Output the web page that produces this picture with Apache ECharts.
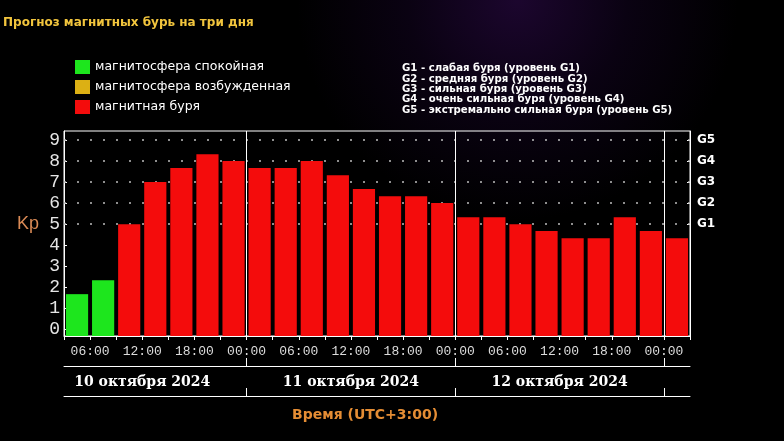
<!DOCTYPE html>
<html><head><meta charset="utf-8">
<script src="https://cdn.jsdelivr.net/npm/echarts@6/dist/echarts.min.js"></script>
<style>html,body{margin:0;padding:0;background:#000}#c{width:784px;height:441px}</style>
</head><body><div id="c"></div>
<script>
// ---- data ----
const titleText = 'Прогноз магнитных бурь на три дня';
const legendNames = ['магнитосфера спокойная', 'магнитосфера возбужденная', 'магнитная буря'];
const legendColors = ['#1de61d', '#dcb014', '#f40c0c'];
const gDescriptions = [
  'G1 - слабая буря (уровень G1)',
  'G2 - средняя буря (уровень G2)',
  'G3 - сильная буря (уровень G3)',
  'G4 - очень сильная буря (уровень G4)',
  'G5 - экстремально сильная буря (уровень G5)'
];
const firstSlotHour = 3;   // hours since 10 Oct 00:00
const slotHours = 3;
const kpValues = [
  1.67, 2.33, 5, 7, 7.67, 8.33, 8,
  7.67, 7.67, 8, 7.33, 6.67, 6.33, 6.33, 6,
  5.33, 5.33, 5, 4.67, 4.33, 4.33, 5.33, 4.67,
  4.33
];
const timeTickHours = [6, 12, 18, 24, 30, 36, 42, 48, 54, 60, 66, 72];
const timeTickLabels = ['06:00', '12:00', '18:00', '00:00', '06:00', '12:00', '18:00', '00:00', '06:00', '12:00', '18:00', '00:00'];
const dayBreakHours = [24, 48, 72];
const dayLabelHours = [12, 36, 60];
const dayLabels = ['10 октября 2024', '11 октября 2024', '12 октября 2024'];
const kpTicks = [0, 1, 2, 3, 4, 5, 6, 7, 8, 9];
const gKp = [5, 6, 7, 8, 9];
const gLabels = ['G1', 'G2', 'G3', 'G4', 'G5'];
const kpName = 'Kp';
const timeAxisTitle = 'Время (UTC+3:00)';

// ---- chart ----
const X_MIN = firstSlotHour, X_MAX = firstSlotHour + slotHours * kpValues.length;
const Y_MIN = -0.32, Y_MAX = 9.43;
const slotEdges = kpValues.map((_, i) => firstSlotHour + slotHours * i).concat(X_MAX);
function kpClass(v) { return v < 4 ? 0 : (v <= 4 ? 1 : 2); }

function barSeries(cls) {
  return {
    type: 'custom', name: legendNames[cls], xAxisIndex: 0, yAxisIndex: 0, z: 3,
    itemStyle: { color: legendColors[cls] },
    encode: { x: 0, y: 1 },
    data: kpValues.map((v, i) => [firstSlotHour + slotHours * (i + 0.5), v, kpClass(v)])
                  .filter(d => d[2] === cls),
    renderItem(params, api) {
      const c = api.coord([api.value(0), api.value(1)]);
      const w = api.size([slotHours, 0])[0] * 0.85;
      const cs = params.coordSys;
      const base = cs.y + cs.height;
      return { type: 'rect', shape: { x: c[0] - w / 2, y: c[1], width: w, height: base - c[1] },
               style: { fill: legendColors[cls] } };
    }
  };
}

const chart = echarts.init(document.getElementById('c'), null, { renderer: 'canvas' });
chart.setOption({
  animation: false,
  backgroundColor: {
    type: 'radial', x: 0.66, y: 0, r: 0.5,
    colorStops: [{ offset: 0, color: '#1c062e' }, { offset: 0.5, color: '#0a0212' }, { offset: 1, color: '#000' }]
  },
  title: [
    { text: titleText, left: 3, top: 17, padding: 0,
      textStyle: { color: '#f2c53d', fontSize: 12, fontWeight: 'bold', fontFamily: 'DejaVu Sans' } },
    { text: gDescriptions.join('\n'), left: 402, top: 63, padding: 0,
      textStyle: { color: '#ffffff', fontSize: 11.3, lineHeight: 10.4, fontWeight: 'bold', fontFamily: 'DejaVu Sans Condensed' } },
    { text: timeAxisTitle, left: 292, top: 408, padding: 0,
      textStyle: { color: '#e58d34', fontSize: 14, fontWeight: 'bold', fontFamily: 'DejaVu Sans' } }
  ],
  legend: {
    orient: 'vertical', left: 75, top: 60, padding: 0,
    itemWidth: 15, itemHeight: 14, itemGap: 6, icon: 'rect', selectedMode: false,
    textStyle: { color: '#ffffff', fontSize: 12.5, fontFamily: 'DejaVu Sans' },
    data: legendNames.map((n, i) => ({ name: n, icon: 'rect', itemStyle: { color: legendColors[i] } }))
  },
  grid: { left: 64, top: 131, width: 626, height: 205, show: true, borderColor: '#ffffff', borderWidth: 1,
          backgroundColor: 'transparent', containLabel: false },
  xAxis: [
    { type: 'value', min: X_MIN, max: X_MAX, position: 'bottom',
      axisLine: { show: true, onZero: false, lineStyle: { color: '#ffffff', width: 1 } },
      axisTick: { show: true, customValues: slotEdges, length: 4, lineStyle: { color: '#ffffff' } },
      axisLabel: { customValues: timeTickHours, margin: 9, color: '#dcdcdc', fontSize: 13, fontFamily: 'Liberation Mono',
                   formatter: v => timeTickLabels[timeTickHours.indexOf(v)] },
      splitLine: { show: false } },
    { type: 'value', min: X_MIN, max: X_MAX, position: 'bottom', offset: 30,
      axisLine: { show: true, onZero: false, lineStyle: { color: '#ffffff', width: 1 } },
      axisTick: { show: true, inside: true, customValues: dayBreakHours, length: 8, lineStyle: { color: '#ffffff' } },
      axisLabel: { customValues: dayLabelHours, margin: 9, color: '#ffffff', fontSize: 14, fontWeight: 'bold',
                   fontFamily: 'DejaVu Serif', formatter: v => dayLabels[dayLabelHours.indexOf(v)] },
      splitLine: { show: false } },
    { type: 'value', min: X_MIN, max: X_MAX, position: 'bottom', offset: 60,
      axisLine: { show: true, onZero: false, lineStyle: { color: '#ffffff', width: 1 } },
      axisTick: { show: true, inside: true, customValues: dayBreakHours, length: 8, lineStyle: { color: '#ffffff' } },
      axisLabel: { show: false }, splitLine: { show: false } }
  ],
  yAxis: [
    { type: 'value', min: Y_MIN, max: Y_MAX, position: 'left',
      name: kpName, nameLocation: 'middle', nameRotate: 0, nameGap: 25,
      nameTextStyle: { color: '#d98a55', fontSize: 18, fontFamily: 'Liberation Sans', verticalAlign: 'bottom' },
      axisLine: { show: true, onZero: false, lineStyle: { color: '#ffffff' } },
      axisTick: { show: true, inside: true, length: 3, customValues: kpTicks, lineStyle: { color: '#ffffff' } },
      axisLabel: { customValues: kpTicks, margin: 4, color: '#e6e6e6', fontSize: 18, fontFamily: 'Liberation Mono' },
      splitLine: { show: false } },
    { type: 'value', min: Y_MIN, max: Y_MAX, position: 'right',
      axisLine: { show: true, onZero: false, lineStyle: { color: '#ffffff' } },
      axisTick: { show: true, inside: true, length: 3, customValues: gKp, lineStyle: { color: '#ffffff' } },
      axisLabel: { customValues: gKp, margin: 7, color: '#ffffff', fontSize: 12, fontWeight: 'bold', fontFamily: 'DejaVu Sans',
                   formatter: v => gLabels[gKp.indexOf(v)] },
      splitLine: { show: false } }
  ],
  series: [
    barSeries(0), barSeries(1), barSeries(2),
    { type: 'line', data: [], silent: true, z: 1, xAxisIndex: 0, yAxisIndex: 0,
      markLine: { silent: true, symbol: 'none', z: 1, animation: false, label: { show: false },
        data: gKp.map(v => ({ yAxis: v, lineStyle: { type: [2, 11], color: '#bdbdbd', width: 1.5 } }))
          .concat(dayBreakHours.map(h => ({ xAxis: h, lineStyle: { type: 'solid', color: '#ffffff', width: 1 } }))) } }
  ]
});
</script></body></html>
